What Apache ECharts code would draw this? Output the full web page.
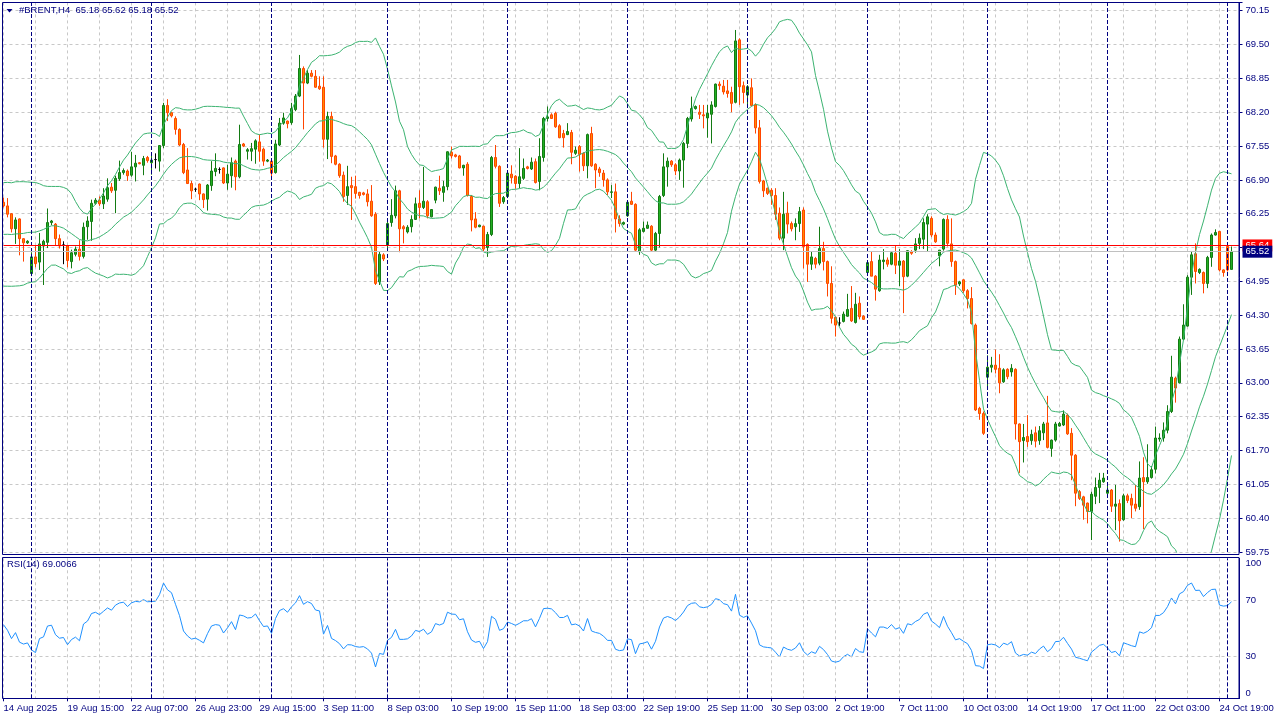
<!DOCTYPE html>
<html><head><meta charset="utf-8">
<script src="https://cdn.jsdelivr.net/npm/echarts@6/dist/echarts.min.js"></script>
<style>html,body{margin:0;padding:0;background:#fff}#c{width:1280px;height:720px}</style>
</head><body><div id="c"></div>
<script>
const symbolName = '#BRENT,H4';
// closes before the first visible candle (inferred from band / RSI start values)
const historyClose = [66.20,66.05,65.90,65.70,65.55,65.40,65.30,65.25,65.20,65.15,65.30,65.50,65.75,66.00,66.20,66.40,66.55,66.70,66.55];

const openP = [
66.47,66.40,66.25,65.96,66.15,65.77,65.69,65.10,65.42,65.32,
65.63,65.70,66.08,66.05,65.77,65.65,65.63,65.33,65.47,65.57,
65.43,66.00,66.10,66.45,66.51,66.44,66.53,66.76,66.70,66.92,
67.04,67.07,66.99,67.15,67.23,67.18,67.33,67.23,67.29,67.26,
67.56,68.33,68.19,68.08,67.87,67.58,67.09,66.83,66.72,66.82,
66.63,66.53,66.79,67.06,67.10,67.13,66.84,66.98,67.26,66.96,
67.59,67.45,67.45,67.49,67.63,67.49,67.26,67.26,67.04,67.57,
67.99,68.03,68.00,68.25,68.51,69.04,68.76,68.95,68.89,68.70,
68.68,67.68,68.12,67.36,67.20,66.99,66.60,66.79,66.77,66.66,
66.65,66.63,66.49,66.24,64.94,65.46,65.65,66.08,66.21,66.69,
66.00,65.90,66.00,66.14,66.45,66.37,66.48,66.19,66.51,66.74,
66.66,66.77,67.43,67.38,67.36,67.13,67.20,66.58,66.15,66.00,
66.01,65.60,65.85,67.33,67.16,66.48,66.58,67.01,66.97,66.83,
66.93,67.15,67.11,67.25,66.87,67.33,68.08,68.15,68.18,67.94,
67.79,67.77,67.81,67.41,67.54,67.41,67.17,67.79,67.20,67.11,
67.03,66.90,66.66,66.67,66.15,66.05,66.21,66.49,66.43,65.52,
65.91,65.97,66.01,65.55,65.87,66.60,67.15,67.26,67.19,67.07,
67.28,67.60,68.07,68.27,68.20,68.15,68.09,68.16,68.31,68.74,
68.70,68.61,68.58,68.39,69.59,68.71,68.53,68.67,68.34,67.90,
66.88,66.74,66.70,66.60,66.26,65.78,66.26,66.06,66.00,66.06,
66.32,65.66,65.28,65.39,65.30,65.58,65.33,64.91,64.26,64.15,
64.18,64.28,64.43,64.16,64.53,64.28,65.12,65.33,65.05,64.77,
65.33,65.36,65.28,65.49,65.26,65.34,65.05,65.52,65.55,65.68,
65.76,66.05,66.16,65.84,65.44,65.57,66.14,65.67,65.33,64.90,
64.98,64.77,64.62,64.11,62.51,62.41,63.11,63.30,63.34,63.28,
63.02,63.26,63.21,63.26,62.21,61.89,61.97,61.89,62.04,61.89,
62.04,62.23,61.74,61.90,62.17,62.19,62.38,62.03,61.61,60.91,
60.81,60.69,60.53,60.82,60.99,61.10,60.88,60.94,60.63,60.68,
60.37,60.83,60.78,60.67,60.62,61.18,61.10,61.18,61.34,61.92,
61.94,62.09,62.45,63.09,63.00,63.84,64.09,65.03,65.48,65.12,
65.12,64.91,65.41,65.84,65.91,65.17,65.62,65.18];

const highP = [
66.56,66.55,66.26,66.18,66.16,65.78,65.74,65.51,65.63,65.88,
65.75,66.35,66.13,66.07,65.85,65.72,65.65,65.56,65.62,65.74,
66.08,66.20,66.52,66.55,66.58,66.74,66.93,66.84,66.98,67.27,
67.12,67.10,67.44,67.38,67.24,67.36,67.36,67.41,67.41,67.57,
68.38,68.45,68.20,68.12,67.89,67.61,67.51,66.88,66.75,66.83,
66.64,66.82,67.26,67.41,67.14,67.14,67.19,67.33,67.29,67.96,
67.61,67.51,67.61,67.68,67.77,67.52,67.30,67.27,67.67,68.09,
68.19,68.04,68.38,68.55,69.30,69.08,69.01,69.01,69.01,68.89,
68.89,68.21,68.21,67.38,67.22,67.06,67.17,66.96,66.98,66.67,
66.67,66.72,66.80,66.28,65.52,65.49,66.16,66.53,66.79,66.71,
66.03,66.03,66.22,66.56,66.70,67.15,66.51,66.34,66.77,66.98,
66.88,67.45,67.54,67.40,67.38,67.19,67.24,66.61,66.28,66.04,
66.02,65.90,67.36,67.57,67.18,66.59,67.06,67.18,66.99,67.51,
67.31,67.17,67.33,67.31,67.70,68.11,68.31,68.18,68.21,67.97,
67.86,67.99,67.86,67.54,67.57,67.43,67.79,67.92,67.22,67.15,
67.09,66.93,66.80,66.83,66.22,66.10,66.49,66.67,66.45,65.97,
66.10,66.10,66.03,65.90,66.61,67.41,67.33,67.28,67.22,67.31,
67.63,68.11,68.50,68.33,68.34,68.34,68.34,68.41,68.75,68.79,
68.82,68.82,68.69,69.78,69.62,68.79,68.72,68.85,68.37,68.05,
66.90,66.75,66.74,66.74,66.37,66.67,66.48,66.10,66.16,66.38,
66.37,65.68,65.52,65.42,66.00,65.71,65.35,65.24,64.27,64.26,
64.37,64.71,64.86,64.73,64.66,64.30,65.36,65.52,65.07,65.46,
65.57,65.41,65.52,65.63,65.57,65.36,65.55,65.55,65.78,65.87,
66.16,66.24,66.20,65.89,65.55,66.16,66.22,66.16,65.35,64.96,
64.99,64.80,64.84,64.14,62.54,62.45,63.53,63.50,63.64,63.55,
63.28,63.28,63.36,63.28,62.22,62.21,62.38,62.10,62.16,62.17,
62.25,62.75,61.91,62.25,62.25,62.47,62.41,62.13,61.63,60.94,
60.83,60.70,60.91,61.18,61.27,61.27,61.04,60.96,61.04,60.76,
60.87,60.87,60.87,61.04,61.49,61.57,61.82,61.40,62.16,62.03,
62.24,62.57,63.52,63.12,63.89,64.51,65.07,65.52,65.68,65.20,
65.14,65.44,65.87,65.95,65.91,65.18,65.69,65.62];

const lowP = [
66.37,66.18,65.89,65.67,65.45,65.33,65.67,65.05,65.22,65.17,
64.88,65.59,66.03,65.63,65.58,65.28,65.22,65.20,65.43,65.35,
65.39,65.75,65.73,66.42,66.40,66.34,66.48,66.65,66.26,66.88,
67.00,66.88,66.96,66.87,67.20,66.99,67.23,67.00,67.12,67.06,
67.51,68.03,68.10,67.77,67.55,67.01,66.82,66.53,66.67,66.51,
66.36,66.31,66.69,66.97,67.02,66.82,66.71,66.75,66.70,66.93,
67.53,67.29,67.26,67.21,67.25,67.17,67.24,66.94,67.02,67.55,
67.96,67.89,67.96,68.22,68.49,67.87,68.74,68.87,68.67,68.63,
67.52,67.30,67.22,67.18,66.94,66.48,66.42,66.13,66.54,66.54,
66.60,66.39,66.19,64.88,64.88,65.34,65.55,66.00,66.16,65.51,
65.68,65.87,65.89,66.13,66.16,66.34,66.16,66.18,66.45,66.61,
66.48,66.70,67.31,67.33,67.12,66.98,66.58,65.91,65.97,65.99,
65.52,65.42,65.82,67.12,66.38,66.44,66.55,66.83,66.73,66.74,
66.90,67.10,67.09,66.83,66.70,67.25,68.02,68.07,67.90,67.70,
67.52,67.76,67.20,67.38,67.06,67.07,66.93,67.15,66.74,66.96,
66.77,66.61,66.55,65.89,66.00,66.03,66.19,66.42,65.52,65.46,
65.89,65.96,65.52,65.53,65.60,66.57,66.77,67.15,66.99,66.90,
66.75,67.51,68.02,68.25,68.07,67.89,67.71,67.60,68.29,68.63,
68.54,68.48,68.20,68.37,68.34,68.37,68.34,68.31,67.79,66.83,
66.57,66.61,66.42,66.13,65.74,65.55,65.87,65.91,65.74,65.90,
65.20,64.94,65.17,65.20,65.26,65.16,64.66,64.14,63.89,64.09,
64.16,64.27,64.17,64.14,64.22,64.21,65.07,65.05,64.58,64.75,
65.18,65.23,65.26,65.09,64.86,64.34,65.03,65.46,65.50,65.57,
65.57,65.52,65.80,65.69,65.24,65.54,65.62,65.23,64.69,64.86,
64.73,64.43,64.12,62.46,62.29,62.00,62.89,63.20,63.18,62.80,
63.00,63.07,63.12,61.91,61.27,61.47,61.77,61.81,61.76,61.81,
61.90,61.74,61.58,61.87,62.16,62.17,62.00,61.13,60.63,60.75,
60.37,60.30,59.98,60.67,60.69,61.08,60.81,60.52,60.17,59.95,
60.35,60.69,60.40,60.53,60.56,60.19,61.06,61.16,61.26,61.87,
61.87,62.03,62.42,62.62,62.99,63.82,64.08,64.69,64.91,65.09,
64.72,64.82,65.23,65.83,65.14,65.04,65.14,65.18];

const closeP = [
66.40,66.24,65.96,66.13,65.77,65.69,65.72,65.42,65.29,65.67,
65.72,66.08,66.11,65.77,65.63,65.65,65.35,65.50,65.57,65.43,
65.99,66.11,66.45,66.51,66.44,66.59,66.75,66.69,66.93,67.04,
67.08,66.98,67.15,67.22,67.21,67.31,67.27,67.28,67.29,67.56,
68.33,68.19,68.13,67.87,67.57,67.04,66.83,66.69,66.72,66.63,
66.52,66.80,67.07,67.12,67.10,66.84,67.01,67.23,66.96,67.58,
67.55,67.48,67.50,67.65,67.45,67.26,67.28,67.03,67.59,67.99,
68.09,67.98,68.27,68.51,69.04,68.76,68.95,68.89,68.68,68.65,
67.68,68.12,67.35,67.20,66.98,66.58,66.77,66.75,66.64,66.60,
66.62,66.48,66.21,64.91,65.47,65.38,66.06,66.22,66.69,65.96,
65.96,65.99,66.14,66.44,66.37,66.49,66.21,66.33,66.76,66.69,
66.77,67.44,67.36,67.35,67.13,67.18,66.60,66.13,65.99,66.03,
65.57,65.85,67.33,67.16,66.45,66.56,67.03,66.94,66.83,66.96,
67.12,67.12,67.24,66.85,67.35,68.08,68.11,68.08,67.92,67.71,
67.71,67.83,67.43,67.47,67.39,67.17,67.77,67.17,67.09,67.04,
66.90,66.67,66.67,66.15,66.06,66.08,66.47,66.43,65.55,65.94,
65.97,66.03,65.55,65.87,66.58,67.15,67.26,67.19,67.07,67.28,
67.60,68.08,68.27,68.31,68.16,68.13,68.18,68.34,68.74,68.71,
68.59,68.56,68.37,69.57,68.69,68.58,68.69,68.33,67.90,66.87,
66.69,66.64,66.60,66.24,65.78,66.24,66.05,65.96,66.06,66.29,
65.62,65.28,65.42,65.28,65.58,65.33,64.91,64.24,64.11,64.15,
64.32,64.41,64.19,64.51,64.27,64.22,65.31,65.05,64.80,65.36,
65.36,65.28,65.50,65.26,65.34,65.04,65.54,65.49,65.67,65.78,
66.08,66.19,65.84,65.71,65.55,66.14,65.68,65.33,64.88,64.94,
64.77,64.62,64.14,62.48,62.41,62.03,63.30,63.34,63.26,63.00,
63.25,63.12,63.28,62.21,61.87,61.95,61.87,62.01,61.88,62.08,
62.21,61.76,61.90,62.21,62.22,62.40,62.02,61.61,60.88,60.78,
60.65,60.53,60.86,60.99,61.13,61.17,60.94,60.63,60.67,60.35,
60.83,60.74,60.65,60.59,61.17,61.10,61.18,61.33,61.94,61.94,
62.09,62.45,63.11,62.90,63.84,64.11,65.03,65.46,65.14,65.18,
64.91,65.41,65.84,65.89,65.17,65.12,65.17,65.52];

const timeLabels = ['14 Aug 2025','19 Aug 15:00','22 Aug 07:00','26 Aug 23:00','29 Aug 15:00','3 Sep 11:00','8 Sep 03:00','10 Sep 19:00','15 Sep 11:00','18 Sep 03:00','22 Sep 19:00','25 Sep 11:00','30 Sep 03:00','2 Oct 19:00','7 Oct 11:00','10 Oct 03:00','14 Oct 19:00','17 Oct 11:00','22 Oct 03:00','24 Oct 19:00'];
const weekStarts = [7,37,67,96,126,156,186,216,246,276,306];
const priceTicks = [59.75,60.40,61.05,61.70,62.35,63.00,63.65,64.30,64.95,65.60,66.25,66.90,67.55,68.20,68.85,69.50,70.15];
const rsiTicks = [0,30,70,100];
const rsiLevels = [30,70];
const askPrice = 65.64;
const rsiText = 'RSI(14) 69.0066';

const N = closeP.length;
const slots = N + 2;
const cats = [];
for (let i = 0; i < slots; i++) cats.push(String(i));

const candleData = openP.map((o, i) => [o, closeP[i], lowP[i], highP[i]]);

// Bollinger Bands (20, 2)
const allClose = historyClose.concat(closeP);
const H = historyClose.length;
const bbUp = [], bbMid = [], bbLo = [];
for (let i = 0; i < N; i++) {
  const k = i + H;
  const w = allClose.slice(k - 19, k + 1);
  const m = w.reduce((a, b) => a + b, 0) / w.length;
  const sd = Math.sqrt(w.reduce((a, b) => a + (b - m) * (b - m), 0) / w.length);
  bbMid.push(+m.toFixed(4)); bbUp.push(+(m + 2 * sd).toFixed(4)); bbLo.push(+(m - 2 * sd).toFixed(4));
}
// RSI 14 (Wilder)
const rsiAll = new Array(allClose.length).fill(null);
let ag = 0, al = 0;
for (let k = 1; k <= 14; k++) { const d = allClose[k] - allClose[k - 1]; if (d > 0) ag += d; else al -= d; }
ag /= 14; al /= 14;
rsiAll[14] = al === 0 ? 100 : 100 - 100 / (1 + ag / al);
for (let k = 15; k < allClose.length; k++) {
  const d = allClose[k] - allClose[k - 1];
  ag = (ag * 13 + (d > 0 ? d : 0)) / 14;
  al = (al * 13 + (d < 0 ? -d : 0)) / 14;
  rsiAll[k] = al === 0 ? 100 : 100 - 100 / (1 + ag / al);
}
const rsi = rsiAll.slice(H).map(v => +v.toFixed(3));

const navy = '#000080';
const gridColor = '#c8c8c8';
const font = 'Liberation Sans';
const fs = 9.5;
const step = priceTicks[1] - priceTicks[0];
const isPriceTick = v => priceTicks.some(t => Math.abs(t - v) < 0.005);

const sepLines = weekStarts.map(i => ({ xAxis: i }));
const sepStyle = { color: navy, type: [4, 2], width: 1 };

const chart = echarts.init(document.getElementById('c'), null, { renderer: 'canvas' });
chart.setOption({
  animation: false,
  backgroundColor: '#ffffff',
  textStyle: { fontFamily: font },
  grid: [
    { left: 3.5, right: 40.5, top: 2.4, height: 549.6 },
    { left: 3.5, right: 40.5, top: 558.3, height: 140 }
  ],
  xAxis: [
    { type: 'category', gridIndex: 0, data: cats, boundaryGap: false,
      axisLine: { show: false }, axisTick: { show: false }, axisLabel: { show: false },
      splitLine: { show: true, interval: (i) => i % 8 === 0, lineStyle: { color: gridColor, type: [3, 3], width: 1 } } },
    { type: 'category', gridIndex: 1, data: cats, boundaryGap: false,
      axisLine: { show: true, lineStyle: { color: navy, width: 1 } },
      axisTick: { show: true, interval: (i) => i % 16 === 0, length: 3, lineStyle: { color: navy } },
      axisLabel: { show: true, interval: (i) => i % 16 === 0, formatter: (v, i) => timeLabels[i / 16] || '',
        align: 'left', color: navy, fontSize: fs, fontFamily: font, margin: 5 },
      splitLine: { show: true, interval: (i) => i % 8 === 0, lineStyle: { color: gridColor, type: [3, 3], width: 1 } } }
  ],
  yAxis: [
    { type: 'value', gridIndex: 0, position: 'right', min: priceTicks[0], max: 70.31, interval: step,
      axisLine: { show: true, lineStyle: { color: navy } },
      axisTick: { show: true, length: 3, lineStyle: { color: navy } },
      axisLabel: { color: navy, fontSize: fs, fontFamily: font, margin: 6, align: 'left',
        formatter: v => isPriceTick(v) ? v.toFixed(2) : '' },
      splitLine: { show: true, lineStyle: { color: gridColor, type: [3, 3], width: 1 } } },
    { type: 'value', gridIndex: 1, position: 'right', min: 0, max: 100, interval: 10,
      axisLine: { show: true, lineStyle: { color: navy } },
      axisTick: { show: false },
      axisLabel: { color: navy, fontSize: fs, fontFamily: font, margin: 6, align: 'left',
        verticalAlignMaxLabel: 'top', verticalAlignMinLabel: 'bottom',
        formatter: v => rsiTicks.indexOf(Math.round(v)) >= 0 && Math.abs(v - Math.round(v)) < 1e-6 ? String(Math.round(v)) : '' },
      splitLine: { show: false } }
  ],
  series: [
    { type: 'candlestick', xAxisIndex: 0, yAxisIndex: 0, data: candleData, barWidth: 2, clip: false,
      itemStyle: { color: '#22b022', color0: '#ff8c00', borderColor: '#137a13', borderColor0: '#ff4500', borderColorDoji: '#000000', borderWidth: 1 },
      emphasis: { disabled: true },
      markLine: { silent: true, symbol: 'none', animation: false, precision: 2,
        data: sepLines.map(d => Object.assign({}, d, { lineStyle: sepStyle, label: { show: false } })).concat([
          { yAxis: askPrice, lineStyle: { color: '#ff0000', type: 'solid', width: 1 },
            label: { show: true, position: 'end', formatter: askPrice.toFixed(2), color: '#ffffff', backgroundColor: '#ff0000',
              padding: [1, 3, 1, 3], fontSize: fs, fontFamily: font, distance: 3 } },
          { yAxis: closeP[N - 1], lineStyle: { color: '#c0c0c0', type: 'solid', width: 1 },
            label: { show: true, position: 'end', formatter: closeP[N - 1].toFixed(2), color: '#ffffff', backgroundColor: navy,
              padding: [1, 3, 1, 3], fontSize: fs, fontFamily: font, distance: 3 } }
        ]) } },
    { type: 'line', xAxisIndex: 0, yAxisIndex: 0, data: bbUp, showSymbol: false, symbol: 'none', lineStyle: { color: '#3cb371', width: 1 }, emphasis: { disabled: true } },
    { type: 'line', xAxisIndex: 0, yAxisIndex: 0, data: bbMid, showSymbol: false, symbol: 'none', lineStyle: { color: '#3cb371', width: 1 }, emphasis: { disabled: true } },
    { type: 'line', xAxisIndex: 0, yAxisIndex: 0, data: bbLo, showSymbol: false, symbol: 'none', lineStyle: { color: '#3cb371', width: 1 }, emphasis: { disabled: true } },
    { type: 'line', xAxisIndex: 1, yAxisIndex: 1, data: rsi, showSymbol: false, symbol: 'none', lineStyle: { color: '#1e90ff', width: 1 }, emphasis: { disabled: true },
      markLine: { silent: true, symbol: 'none', animation: false,
        data: sepLines.map(d => Object.assign({}, d, { lineStyle: sepStyle, label: { show: false } })).concat(
          rsiLevels.map(v => ({ yAxis: v, lineStyle: { color: gridColor, type: [3, 3], width: 1 }, label: { show: false } }))) } }
  ],
  graphic: [
    { type: 'rect', z: 100, silent: true, shape: { x: 2.5, y: 2.5, width: 1236.5, height: 552 }, style: { fill: null, stroke: navy, lineWidth: 1 } },
    { type: 'rect', z: 100, silent: true, shape: { x: 2.5, y: 557.5, width: 1236.5, height: 141 }, style: { fill: null, stroke: navy, lineWidth: 1 } },
    { type: 'polygon', z: 101, silent: true, shape: { points: [[6.5, 9], [12.5, 9], [9.5, 12.5]] }, style: { fill: navy } },
    { type: 'text', z: 101, silent: true, left: 19, top: 5,
      style: { text: symbolName + '  ' + [openP[N - 1], highP[N - 1], lowP[N - 1], closeP[N - 1]].map(v => v.toFixed(2)).join(' '),
        fill: navy, font: fs + 'px "' + font + '"' } },
    { type: 'text', z: 101, silent: true, left: 7, top: 559.5,
      style: { text: rsiText, fill: navy, font: fs + 'px "' + font + '"' } }
  ]
});
</script>
</body></html>
